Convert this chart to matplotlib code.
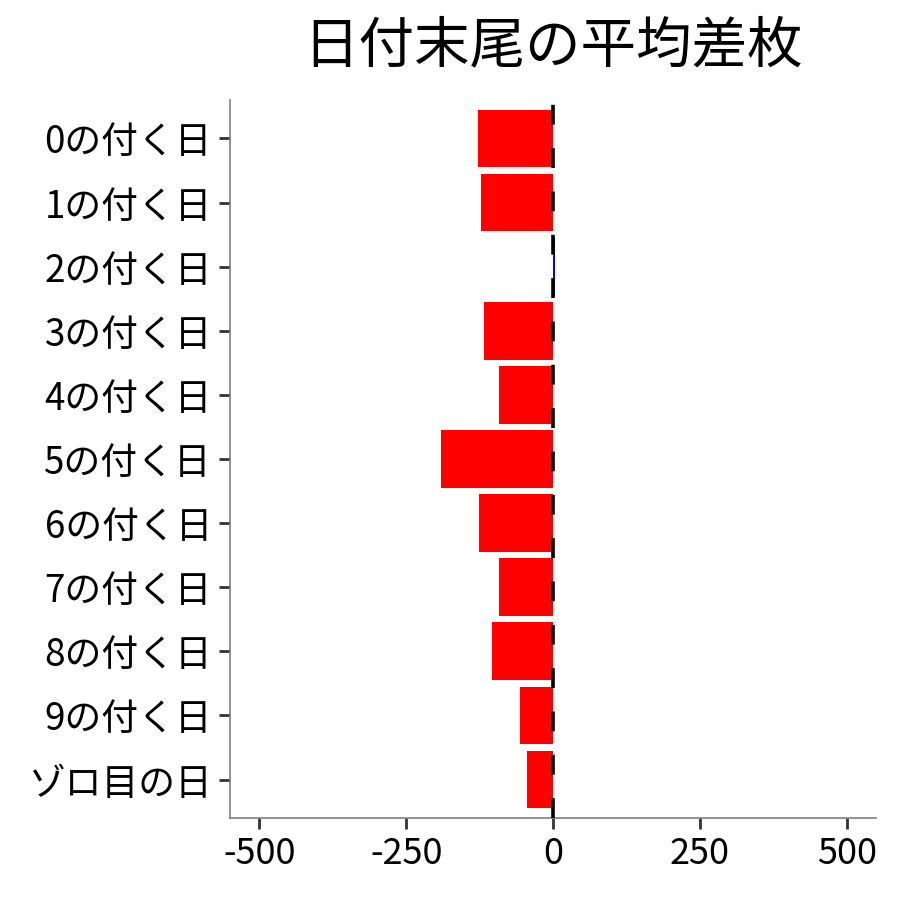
import matplotlib
matplotlib.use("Agg")
import matplotlib.pyplot as plt

plt.rcParams['font.family'] = ['Noto Sans CJK JP', 'DejaVu Sans']

categories = ["0の付く日", "1の付く日", "2の付く日", "3の付く日", "4の付く日",
              "5の付く日", "6の付く日", "7の付く日", "8の付く日", "9の付く日", "ゾロ目の日"]
values = [-128, -122, 3, -117, -92, -190, -126, -92, -104, -56, -44]
title = "日付末尾の平均差枚"
xticks = [-500, -250, 0, 250, 500]

fig = plt.figure(figsize=(9, 9), dpi=100)
ax = fig.add_axes([230/900, 1-818/900, (876-230)/900, (818-100)/900])

ypos = list(range(len(categories)))
colors = ["red" if v < 0 else "blue" for v in values]
ax.barh(ypos, values, height=0.9, color=colors, edgecolor="none", zorder=2)
ax.axvline(0, color="black", linestyle=(0, (5.5, 6.5)), linewidth=2.6, zorder=3)

ax.set_xlim(-550, 550)
ax.set_ylim(len(categories) - 0.4, -0.6)
ax.set_yticks(ypos)
ax.set_yticklabels(categories)
ax.set_xticks(xticks)
ax.set_xticklabels([str(t) for t in xticks])

for s in ["top", "right"]:
    ax.spines[s].set_visible(False)
for s in ["left", "bottom"]:
    ax.spines[s].set_color("#7f7f7f")
    ax.spines[s].set_linewidth(1.2)

ax.tick_params(axis="both", colors="#333333", width=2, length=8, labelsize=26,
               labelcolor="black", pad=5)
ax.tick_params(axis="y", labelsize=26.5, pad=5)

fig.text(553/900, 1-46/900, title, ha="center", va="center", fontsize=40)

fig.savefig("out.png", dpi=100)
